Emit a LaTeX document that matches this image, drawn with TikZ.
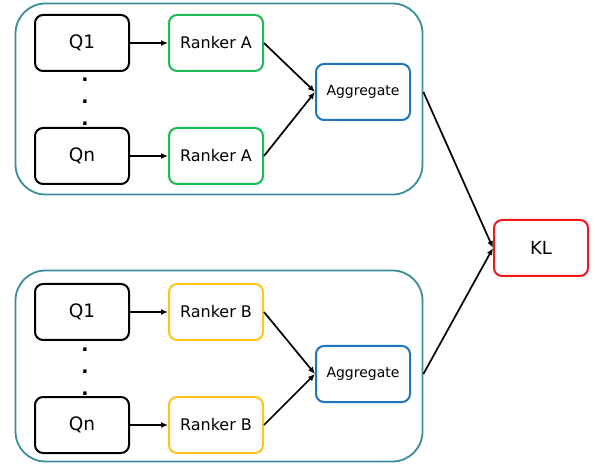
\documentclass[tikz,border=0pt]{standalone}
\usepackage{fontspec}
\setmainfont{DejaVu Sans}
\usetikzlibrary{arrows.meta}
\definecolor{grpline}{HTML}{3B8C9C}
\definecolor{rankA}{HTML}{1DB954}
\definecolor{rankB}{HTML}{FFC41A}
\definecolor{aggline}{HTML}{1F74C2}
\definecolor{klline}{HTML}{F01818}
\begin{document}
\begin{tikzpicture}[x=1pt,y=-1pt,
    box/.style={draw, rounded corners=8pt, line width=2pt, minimum width=94pt, minimum height=56pt, font=\fontsize{16}{19}\selectfont},
    qbox/.style={box, font=\fontsize{18.5}{22}\selectfont},
    grp/.style={draw=grpline, rounded corners=30pt, line width=1.8pt, minimum width=407pt, minimum height=191pt},
    dots/.style={align=center, font=\bfseries\fontsize{19}{22}\selectfont},
    arr/.style={-{Latex[length=7pt,width=6pt]}, line width=1.7pt}]
  \useasboundingbox (0,0) rectangle (595,465);
  % groups
  \node[grp] (GA) at (219,99) {};
  \node[grp] (GB) at (219,366) {};
  % upper group
  \node[qbox] (QA1) at (82,43) {Q1};
  \node[qbox] (QAn) at (82,156) {Qn};
  \node[dots] (dA) at (85,102) {.\\.\\.};
  \node[box, draw=rankA] (RA1) at (216,43) {Ranker A};
  \node[box, draw=rankA] (RAn) at (216,156) {Ranker A};
  \node[box, draw=aggline, font=\fontsize{14}{16}\selectfont] (AgA) at (363,92) {Aggregate};
  % lower group
  \node[qbox] (QB1) at (82,312) {Q1};
  \node[qbox] (QBn) at (82,425) {Qn};
  \node[dots] (dB) at (85,372) {.\\.\\.};
  \node[box, draw=rankB] (RB1) at (216,312) {Ranker B};
  \node[box, draw=rankB] (RBn) at (216,425) {Ranker B};
  \node[box, draw=aggline, font=\fontsize{14}{16}\selectfont] (AgB) at (363,374) {Aggregate};
  % result
  \node[box, draw=klline, font=\fontsize{18}{21}\selectfont] (KL) at (541,248) {KL};
  \draw[arr] (QA1) -- (RA1);
  \draw[arr] (QAn) -- (RAn);
  \draw[arr] (RA1.east) -- (AgA.west);
  \draw[arr] (RAn.east) -- (AgA.west);
  \draw[arr] (QB1) -- (RB1);
  \draw[arr] (QBn) -- (RBn);
  \draw[arr] (RB1.east) -- (AgB.west);
  \draw[arr] (RBn.east) -- (AgB.west);
  \draw[arr] (GA.east |- AgA.east) -- (KL.west);
  \draw[arr] (GB.east |- AgB.east) -- (KL.west);
\end{tikzpicture}
\end{document}
